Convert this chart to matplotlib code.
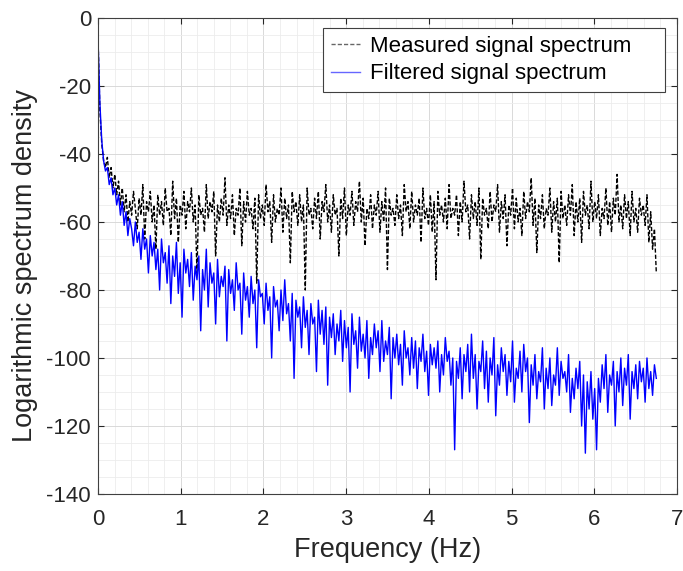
import numpy as np
import matplotlib.pyplot as plt
from matplotlib.ticker import MultipleLocator

plt.rcParams['font.family'] = ['Liberation Sans', 'DejaVu Sans']
plt.rcParams['axes.unicode_minus'] = False

# Frequency bins (Hz)
f_max = 6.75
n_bins = 300

# Measured signal spectrum (dB)
measured = [
    -6, -27, -37, -42, -44, -41, -47, -44, -50, -46,
    -52, -48, -55, -50, -57, -52, -60, -54, -58, -51,
    -56, -62, -53, -58, -49, -65, -54, -57, -51, -60,
    -55, -68, -52, -58, -54, -61, -50, -57, -56, -64,
    -48, -59, -53, -66, -55, -58, -51, -62, -54, -57,
    -50, -60, -55, -75, -52, -58, -56, -63, -49, -59,
    -54, -57, -51, -70, -55, -60, -53, -58, -47, -61,
    -55, -59, -52, -64, -56, -58, -50, -67, -54, -60,
    -51, -58, -56, -62, -53, -78, -52, -59, -55, -61,
    -49, -57, -54, -66, -52, -60, -56, -58, -50, -63,
    -53, -59, -55, -72, -51, -57, -54, -61, -52, -60,
    -55, -80, -50, -58, -56, -62, -53, -59, -51, -65,
    -54, -57, -49, -60, -55, -63, -52, -58, -56, -70,
    -53, -59, -50, -64, -55, -58, -51, -61, -54, -57,
    -48, -60, -53, -67, -56, -59, -52, -62, -55, -58,
    -51, -63, -54, -60, -50, -74, -53, -58, -56, -61,
    -52, -59, -55, -64, -49, -57, -54, -62, -51, -60,
    -55, -58, -53, -66, -50, -59, -56, -61, -52, -63,
    -54, -77, -51, -58, -55, -60, -53, -62, -49, -59,
    -56, -58, -52, -64, -54, -60, -48, -57, -55, -65,
    -52, -59, -54, -61, -50, -71, -53, -58, -56, -62,
    -51, -60, -55, -57, -49, -63, -54, -59, -52, -67,
    -55, -58, -50, -62, -53, -60, -56, -64, -51, -59,
    -54, -57, -47, -61, -53, -69, -55, -59, -52, -62,
    -56, -58, -50, -63, -54, -60, -53, -72, -51, -59,
    -55, -61, -52, -58, -49, -64, -54, -60, -53, -66,
    -51, -58, -55, -62, -48, -60, -54, -59, -52, -64,
    -56, -59, -50, -61, -54, -63, -53, -58, -46, -60,
    -55, -62, -52, -59, -54, -64, -51, -60, -56, -63,
    -53, -58, -55, -61, -52, -66, -57, -68, -62, -75,
]

# Filtered signal spectrum (dB)
filtered = [
    -6, -25, -36, -42, -45, -44, -49, -47, -52, -50,
    -55, -52, -58, -54, -61, -57, -64, -59, -62, -67,
    -60, -66, -63, -71, -62, -68, -65, -75, -64, -70,
    -66, -74, -68, -80, -65, -72, -69, -78, -67, -84,
    -70, -76, -66, -81, -72, -88, -68, -75, -71, -79,
    -69, -83, -73, -77, -70, -92, -74, -80, -68, -85,
    -72, -78, -75, -90, -71, -82, -76, -79, -73, -95,
    -74, -81, -77, -86, -72, -80, -78, -93, -75, -83,
    -79, -88, -76, -84, -80, -97, -77, -82, -81, -90,
    -78, -86, -82, -100, -79, -85, -83, -92, -80, -89,
    -77, -87, -84, -95, -81, -106, -83, -88, -85, -97,
    -82, -91, -86, -99, -84, -90, -88, -104, -83, -93,
    -86, -96, -85, -108, -88, -94, -87, -99, -90, -95,
    -86, -101, -89, -97, -91, -110, -87, -96, -92, -103,
    -88, -98, -93, -100, -89, -106, -94, -99, -90, -97,
    -92, -104, -89, -101, -95, -99, -91, -112, -94, -100,
    -93, -102, -96, -108, -92, -100, -97, -105, -94, -103,
    -95, -109, -97, -101, -93, -104, -98, -111, -96, -102,
    -97, -103, -95, -110, -99, -105, -94, -101, -98, -108,
    -100, -127, -101, -106, -97, -112, -99, -104, -96, -110,
    -93, -106, -99, -115, -101, -104, -95, -109, -98, -113,
    -100, -105, -94, -117, -102, -108, -97, -104, -99, -111,
    -101, -107, -95, -113, -103, -106, -98, -110, -96, -104,
    -100, -119, -102, -108, -99, -112, -104, -107, -97, -115,
    -103, -109, -100, -114, -105, -108, -97, -111, -101, -106,
    -104, -110, -99, -116, -106, -112, -103, -109, -101, -120,
    -105, -128, -107, -115, -104, -118, -109, -127, -106, -113,
    -102, -109, -99, -116, -105, -108, -101, -120, -104, -110,
    -100, -114, -103, -108, -99, -118, -104, -109, -102, -112,
    -101, -107, -103, -113, -100, -109, -104, -111, -102, -106,
]

freq = np.linspace(0, f_max, n_bins)

fig = plt.figure(figsize=(6.83, 5.71), dpi=100)
ax = fig.add_axes([0.1435, 0.1349, 0.8477, 0.8336])

ax.plot(freq, measured, color='black', linestyle='--', linewidth=1.0,
        dashes=(3, 1.5), label='Measured signal spectrum')
ax.plot(freq, filtered, color='blue', linewidth=1.0,
        label='Filtered signal spectrum')

ax.set_xlim(0, 7)
ax.set_ylim(-140, 0)
ax.xaxis.set_major_locator(MultipleLocator(1))
ax.xaxis.set_minor_locator(MultipleLocator(0.2))
ax.yaxis.set_major_locator(MultipleLocator(20))
ax.yaxis.set_minor_locator(MultipleLocator(5))

ax.grid(which='major', color='#d9d9d9', linewidth=0.7)
ax.grid(which='minor', color='#ececec', linewidth=0.6)
ax.set_axisbelow(True)

ax.tick_params(which='both', direction='in', top=True, right=True,
               labelsize=16, colors='#262626', pad=5)
ax.tick_params(axis='x', which='major', pad=11)
ax.tick_params(which='minor', length=0)
ax.tick_params(which='major', length=4)
for s in ax.spines.values():
    s.set_color('#404040')
    s.set_linewidth(0.8)

ax.set_xlabel('Frequency (Hz)', fontsize=19.5, color='#262626', labelpad=5)
ax.set_ylabel('Logarithmic spectrum density', fontsize=19.5, color='#262626')
ax.yaxis.set_label_coords(-0.104, 0.479)

# MATLAB-style legend box, wider than its text
leg = ax.legend(loc='upper left', bbox_to_anchor=(0.3886, 0.849, 0.5907, 0.13),
                mode='expand', borderaxespad=0, fontsize=16, handlelength=1.3,
                handletextpad=0.45, fancybox=False, framealpha=1,
                edgecolor='#404040', borderpad=0.35, labelspacing=0.3)
leg.get_frame().set_linewidth(0.8)
for line in leg.get_lines():
    line.set_alpha(0.6)

fig.savefig('out.png', dpi=100)
